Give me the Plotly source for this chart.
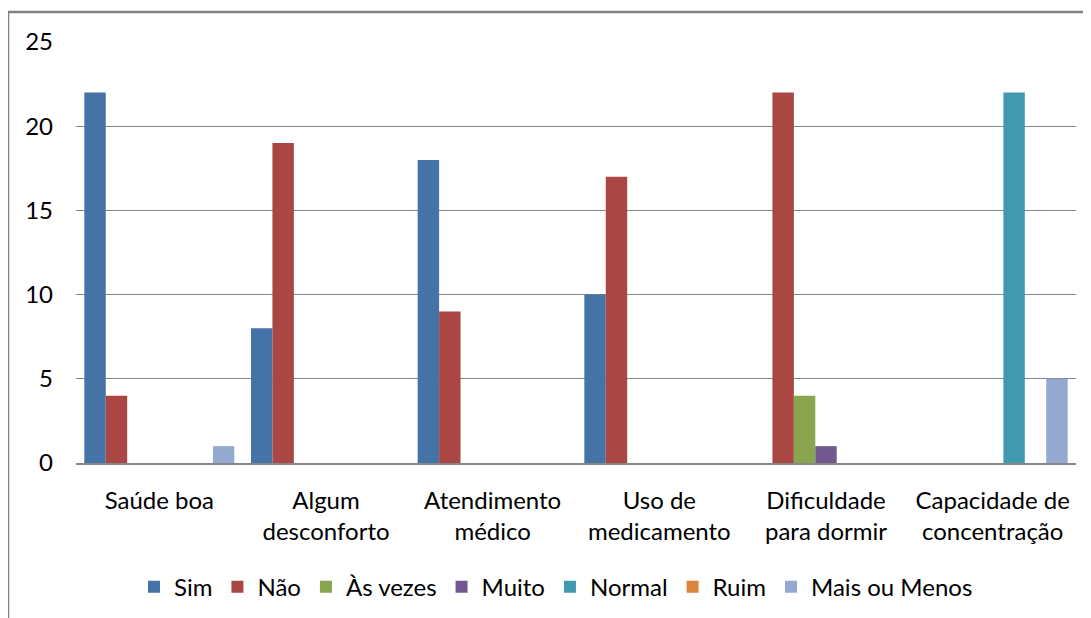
import plotly.graph_objects as go

categories = ["Saúde boa", "Algum<br>desconforto", "Atendimento<br>médico",
              "Uso de<br>medicamento", "Dificuldade<br>para dormir", "Capacidade de<br>concentração"]
sim = [22, 8, 18, 10, 0, 0]
nao = [4, 19, 9, 17, 22, 0]
as_vezes = [0, 0, 0, 0, 4, 0]
muito = [0, 0, 0, 0, 1, 0]
normal = [0, 0, 0, 0, 0, 22]
ruim = [0, 0, 0, 0, 0, 0]
mais_ou_menos = [1, 0, 0, 0, 0, 5]

series = [
    ("Sim", sim, "#4572A7"),
    ("Não", nao, "#AA4643"),
    ("Às vezes", as_vezes, "#89A54E"),
    ("Muito", muito, "#71588F"),
    ("Normal", normal, "#4198AF"),
    ("Ruim", ruim, "#DB843D"),
    ("Mais ou Menos", mais_ou_menos, "#93A9CF"),
]

fig = go.Figure()
for name, vals, color in series:
    fig.add_trace(go.Bar(name=name, x=categories, y=vals, marker_color=color,
                         marker_line_width=0))

font = "Lato, Open Sans, sans-serif"
# page body has an 8px margin; plot area should sit at page x 76..1076, y 42..463
fig.update_layout(
    barmode="group", bargap=0.1, bargroupgap=0,
    width=1083, height=610,
    margin=dict(l=68, r=15, t=34, b=155, autoexpand=False),
    paper_bgcolor="white", plot_bgcolor="white",
    font=dict(family=font, size=24, color="#000000"),
    showlegend=True,
    legend=dict(orientation="h", x=0.48, xanchor="center", y=-0.295, yanchor="middle",
                font=dict(size=24), itemwidth=30, traceorder="normal"),
    xaxis=dict(showgrid=False, showline=True, linecolor="#868686", linewidth=1.5,
               ticks="", ticklabelstandoff=15, tickangle=0),
    yaxis=dict(range=[0, 25], dtick=5, showgrid=True, gridcolor="#868686", gridwidth=1.3,
               showline=False, zeroline=False, ticks="", ticklabelstandoff=22),
    shapes=[
        dict(type="line", xref="paper", yref="paper", x0=-0.068, x1=-0.068, y0=1.071, y1=-0.4,
             line=dict(color="#808080", width=2.5)),
        dict(type="line", xref="paper", yref="paper", x0=-0.069, x1=1.1, y0=1.071, y1=1.071,
             line=dict(color="#808080", width=2.5)),
    ],
)

fig.write_html("out.html")
